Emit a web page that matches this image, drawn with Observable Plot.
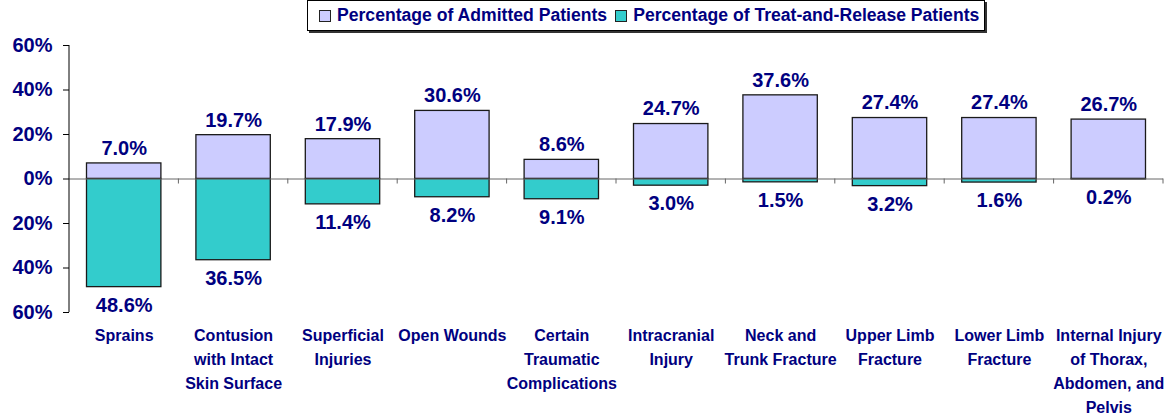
<!DOCTYPE html>
<html>
<head>
<meta charset="utf-8">
<script src="https://cdn.jsdelivr.net/npm/d3@7"></script>
<script src="https://cdn.jsdelivr.net/npm/@observablehq/plot@0.6"></script>
<style>
  html, body { margin: 0; padding: 0; background: #fff; }
  #wrap { position: relative; width: 1170px; height: 416px; font-family: "Liberation Sans", Arial, sans-serif; }
  #legend {
    position: absolute; left: 307px; top: 0px; width: 678px; height: 31px;
    border: 1px solid #000; box-shadow: 2px 2px 0 #333; background: #fff;
    display: flex; align-items: center; box-sizing: border-box; padding-left: 11px;
    font-weight: bold; font-size: 17.6px; color: #000080; white-space: nowrap; z-index: 2;
  }
  #legend .sw { display: inline-block; width: 10px; height: 10px; border: 1px solid #222; margin-right: 6px; }
  #legend .item { display: inline-flex; align-items: center; margin-right: 8px; }
</style>
</head>
<body>
<div id="wrap">
  <div id="legend"></div>
  <div id="chart"></div>
</div>
<script>
const categories = ["Sprains", "Contusion with Intact Skin Surface", "Superficial Injuries", "Open Wounds", "Certain Traumatic Complications", "Intracranial Injury", "Neck and Trunk Fracture", "Upper Limb Fracture", "Lower Limb Fracture", "Internal Injury of Thorax, Abdomen, and Pelvis"];
const categoryLabels = ["Sprains", "Contusion\nwith Intact\nSkin Surface", "Superficial\nInjuries", "Open Wounds", "Certain\nTraumatic\nComplications", "Intracranial\nInjury", "Neck and\nTrunk Fracture", "Upper Limb\nFracture", "Lower Limb\nFracture", "Internal Injury\nof Thorax,\nAbdomen, and\nPelvis"];
const admitted = [7.0, 19.7, 17.9, 30.6, 8.6, 24.7, 37.6, 27.4, 27.4, 26.7];
const treatRelease = [48.6, 36.5, 11.4, 8.2, 9.1, 3.0, 1.5, 3.2, 1.6, 0.2];
const seriesNames = ["Percentage of Admitted Patients", "Percentage of Treat-and-Release Patients"];
const seriesColors = ["#CCCCFF", "#33CCCC"];
const yTicks = [-60, -40, -20, 0, 20, 40, 60];

const navy = "#000080";
const labelOf = new Map(categories.map((c, i) => [c, categoryLabels[i]]));
const admittedData = categories.map((c, i) => ({category: c, value: admitted[i]}));
const treatData = categories.map((c, i) => ({category: c, value: -treatRelease[i], label: treatRelease[i]}));

// legend
const legend = document.getElementById("legend");
seriesNames.forEach((name, i) => {
  const item = document.createElement("span");
  item.className = "item";
  const sw = document.createElement("span");
  sw.className = "sw";
  sw.style.background = seriesColors[i];
  item.appendChild(sw);
  item.appendChild(document.createTextNode(name));
  legend.appendChild(item);
});

const margins = {marginLeft: 69, marginRight: 7, marginTop: 45, marginBottom: 104};

function gridMarks(index, scales, values, dimensions) {
  const {width, marginLeft, marginRight} = dimensions;
  const n = categories.length;
  const step = (width - marginLeft - marginRight) / n;
  const y0 = scales.y(0);
  const g = d3.create("svg:g");
  // y axis line
  g.append("line").attr("x1", marginLeft).attr("x2", marginLeft)
    .attr("y1", scales.y(60)).attr("y2", scales.y(-60)).attr("stroke", "#000").attr("stroke-width", 1);
  // category boundary ticks along zero line
  for (let k = 1; k <= n; k++) {
    const x = marginLeft + k * step;
    g.append("line").attr("x1", x).attr("x2", x).attr("y1", y0).attr("y2", y0 + 5)
      .attr("stroke", "#666").attr("stroke-width", 1);
  }
  return g.node();
}

const chart = Plot.plot({
  width: 1170,
  height: 416,
  ...margins,
  style: {fontFamily: "'Liberation Sans', Arial, sans-serif", fontWeight: "bold", color: navy, background: "transparent", overflow: "visible"},
  x: {type: "band", domain: categories, paddingInner: 0.32, paddingOuter: 0.16, round: false},
  y: {domain: [-60, 60]},
  marks: [
    Plot.barY(admittedData, {x: "category", y: "value", fill: seriesColors[0], stroke: "#1a1a1a", strokeWidth: 1.3}),
    Plot.barY(treatData, {x: "category", y: "value", fill: seriesColors[1], stroke: "#1a1a1a", strokeWidth: 1.3}),
    Plot.ruleY([0], {stroke: "#666", strokeWidth: 1}),
    gridMarks,
    Plot.text(admittedData, {x: "category", y: "value", text: d => d.value.toFixed(1) + "%", dy: -15, fontSize: 20, fontWeight: "bold", fill: navy}),
    Plot.text(treatData, {x: "category", y: "value", text: d => d.label.toFixed(1) + "%", dy: 18, fontSize: 20, fontWeight: "bold", fill: navy}),
    Plot.axisY({ticks: yTicks, tickFormat: d => Math.abs(d) + "%", tickSize: 6, tickPadding: 11, fontSize: 20, fontWeight: "bold", fill: navy, stroke: "#000", label: null}),
    Plot.axisX({tickSize: 0, tickPadding: 11, tickFormat: d => labelOf.get(d), fontSize: 16, fontWeight: "bold", fill: navy, lineHeight: 1.5, label: null})
  ]
});
document.getElementById("chart").appendChild(chart);
</script>
</body>
</html>
